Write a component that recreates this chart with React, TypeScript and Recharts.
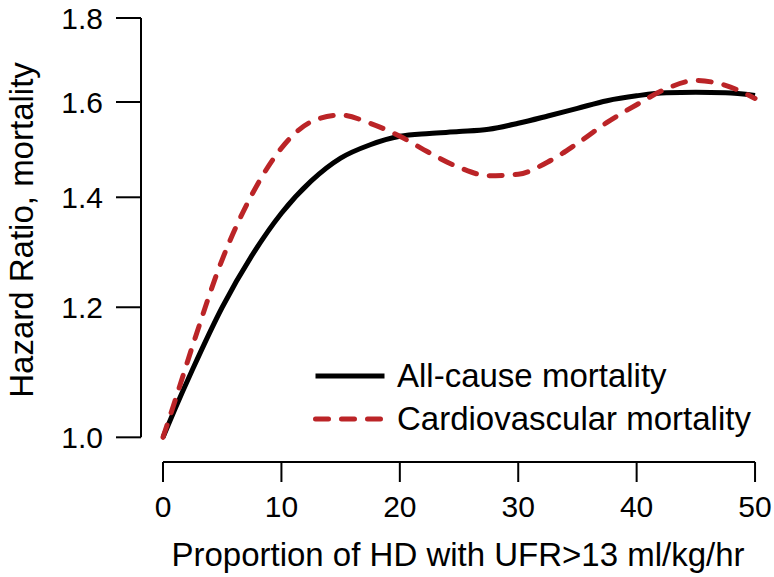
import { LineChart, Line, XAxis, YAxis, ReferenceLine, Legend } from 'recharts'

// proportion of HD sessions with UFR > 13 ml/kg/hr (%)
const X_VALUES = [0, 1, 2.5, 5, 7.5, 10, 12.5, 15, 17.5, 20, 22.5, 25, 27.5, 30, 32.5, 35, 37.5, 40, 42.5, 45, 47.5, 50]
const ALL_CAUSE = [1.0, 1.04, 1.1, 1.2, 1.29, 1.369, 1.432, 1.479, 1.507, 1.525, 1.531, 1.535, 1.54, 1.553, 1.569, 1.586, 1.603, 1.614, 1.621, 1.622, 1.621, 1.615]
const CARDIOVASCULAR = [1.0, 1.052, 1.137, 1.283, 1.405, 1.5, 1.556, 1.571, 1.553, 1.525, 1.49, 1.46, 1.443, 1.446, 1.471, 1.51, 1.555, 1.594, 1.63, 1.649, 1.638, 1.608]

const X_TICKS = [0, 10, 20, 30, 40, 50]
const Y_TICKS = [1.0, 1.2, 1.4, 1.6, 1.8]

const SERIES = [
  { key: 'allCause', name: 'All-cause mortality', color: '#000000', dash: undefined },
  { key: 'cv', name: 'Cardiovascular mortality', color: '#bb2427', dash: '13 13' },
]

const data = X_VALUES.map((x, i) => ({ x, allCause: ALL_CAUSE[i], cv: CARDIOVASCULAR[i] }))

// the axes are drawn detached from the data (R style), so the domains run a bit past the data
const X_MIN = -1.86
const X_MAX = 50.25
const Y_MIN = 0.966
const Y_MAX = 1.8

const FONT = '"Liberation Sans", Arial, Helvetica, sans-serif'

function LegendContent({ payload }: any) {
  return (
    <div style={{ fontFamily: FONT }}>
      {(payload || []).map((entry: any) => {
        const s = SERIES.find((d) => d.key === entry.dataKey) || SERIES[0]
        return (
          <div key={s.key} style={{ display: 'flex', alignItems: 'center', height: 43 }}>
            <svg width={74} height={10}>
              <line x1={2.5} y1={5} x2={71.5} y2={5} stroke={s.color} strokeWidth={5}
                strokeDasharray={s.dash} strokeLinecap={s.dash ? 'round' : 'butt'} />
            </svg>
            <span style={{ marginLeft: 10, fontSize: 33, lineHeight: '43px', color: '#000' }}>{s.name}</span>
          </div>
        )
      })}
    </div>
  )
}

export default function App() {
  return (
    <div style={{ position: 'absolute', left: 0, top: 0, background: '#fff', fontFamily: FONT }}>
      <LineChart width={774} height={577} data={data} margin={{ top: 18, right: 16, bottom: 0, left: 0 }}>
        <XAxis
          dataKey="x"
          type="number"
          domain={[X_MIN, X_MAX]}
          allowDataOverflow
          ticks={X_TICKS}
          axisLine={false}
          tickLine={{ stroke: '#000', strokeWidth: 2 }}
          tickSize={20}
          tickMargin={14}
          tick={{ fill: '#000', fontSize: 30 }}
          height={115}
          label={{
            content: () => (
              <text x={458} y={566} textAnchor="middle" fontSize={33} fill="#000">
                Proportion of HD with UFR&gt;13 ml/kg/hr
              </text>
            ),
          }}
        />
        <YAxis
          type="number"
          scale="log"
          domain={[Y_MIN, Y_MAX]}
          allowDataOverflow
          ticks={Y_TICKS}
          tickFormatter={(v: number) => v.toFixed(1)}
          axisLine={false}
          tickLine={{ stroke: '#000', strokeWidth: 2 }}
          tickSize={25}
          tickMargin={13}
          tick={{ fill: '#000', fontSize: 30 }}
          width={141}
          label={{
            content: () => (
              <text transform="translate(33, 230) rotate(-90)" textAnchor="middle" fontSize={33} fill="#000">
                Hazard Ratio, mortality
              </text>
            ),
          }}
        />
        <ReferenceLine
          segment={[{ x: X_MIN, y: Y_TICKS[0] }, { x: X_MIN, y: Y_MAX }]}
          stroke="#000"
          strokeWidth={2}
          ifOverflow="visible"
        />
        <ReferenceLine
          segment={[{ x: X_TICKS[0], y: Y_MIN }, { x: X_TICKS[X_TICKS.length - 1], y: Y_MIN }]}
          stroke="#000"
          strokeWidth={2}
          ifOverflow="visible"
        />
        {SERIES.map((s) => (
          <Line
            key={s.key}
            dataKey={s.key}
            name={s.name}
            type="monotone"
            stroke={s.color}
            strokeWidth={5}
            strokeDasharray={s.dash}
            strokeLinecap={s.dash ? 'round' : 'butt'}
            dot={false}
            activeDot={false}
            isAnimationActive={false}
          />
        ))}
        <Legend
          layout="vertical"
          verticalAlign="middle"
          align="center"
          wrapperStyle={{ left: 313, top: 354, width: 460 }}
          content={<LegendContent />}
        />
      </LineChart>
    </div>
  )
}
